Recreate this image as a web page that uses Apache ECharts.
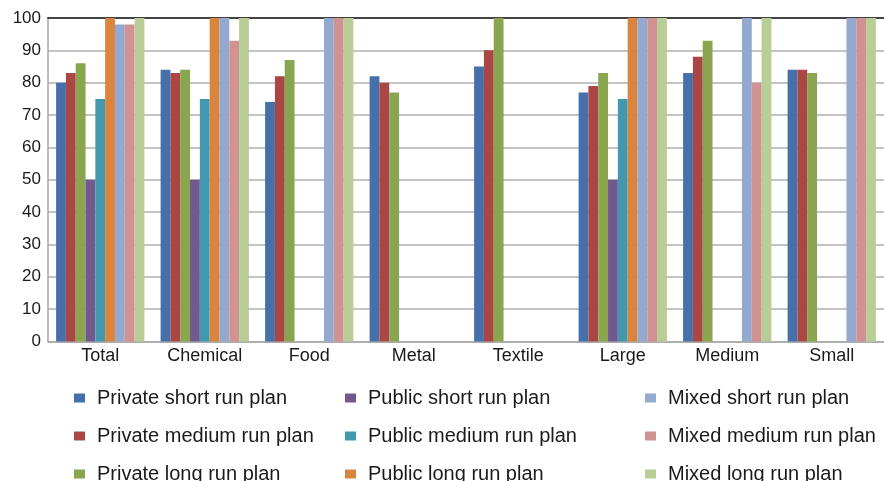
<!DOCTYPE html>
<html>
<head>
<meta charset="utf-8">
<script src="https://cdn.jsdelivr.net/npm/echarts@6/dist/echarts.min.js"></script>
<style>
html,body{margin:0;padding:0;background:#fff;}
#chart{width:884px;height:481px;}
</style>
</head>
<body>
<div id="chart"></div>
<script>
var categories = ['Total','Chemical','Food','Metal','Textile','Large','Medium','Small'];
var yTicks = [0,10,20,30,40,50,60,70,80,90,100];

var seriesNames = [
  'Private short run plan','Private medium run plan','Private long run plan',
  'Public short run plan','Public medium run plan','Public long run plan',
  'Mixed short run plan','Mixed medium run plan','Mixed long run plan'
];
var privateShort  = [80, 84, 74, 82, 85, 77, 83, 84];
var privateMedium = [83, 83, 82, 80, 90, 79, 88, 84];
var privateLong   = [86, 84, 87, 77, 100, 83, 93, 83];
var publicShort   = [50, 50, null, null, null, 50, null, null];
var publicMedium  = [75, 75, null, null, null, 75, null, null];
var publicLong    = [100, 100, null, null, null, 100, null, null];
var mixedShort    = [98, 100, 100, null, null, 100, 100, 100];
var mixedMedium   = [98, 93, 100, null, null, 100, 80, 100];
var mixedLong     = [100, 100, 100, null, null, 100, 100, 100];

var seriesData = [privateShort, privateMedium, privateLong, publicShort, publicMedium, publicLong, mixedShort, mixedMedium, mixedLong];
var colors = ['#4670AB','#AA4643','#89A54E','#71588F','#4198AF','#DB843D','#93A9D0','#D19392','#B9CD96'];

var FONT = '"Liberation Sans", Arial, sans-serif';

var series = seriesNames.map(function(n, i){
  return {
    name: n, type: 'bar', data: seriesData[i],
    barGap: 0, barCategoryGap: '15.5%',
    itemStyle: {color: colors[i]},
    emphasis: {disabled: true}
  };
});

function legendCol(names, left){
  return {
    orient: 'vertical', left: left, top: 388, height: 120, padding: 0,
    itemWidth: 11, itemHeight: 9, itemGap: 18,
    icon: 'rect',
    data: names,
    textStyle: {fontFamily: FONT, fontSize: 20, color: '#1a1a1a', lineHeight: 19, padding: [0,0,0,7]}
  };
}

var chart = echarts.init(document.getElementById('chart'));
chart.setOption({
  animation: false,
  color: colors,
  grid: {left: 48, top: 18, width: 842, bottom: 139.5, containLabel: false},
  legend: [
    legendCol(seriesNames.slice(0,3), 74),
    legendCol(seriesNames.slice(3,6), 345),
    legendCol(seriesNames.slice(6,9), 645)
  ],
  xAxis: [{
    type: 'category', data: categories,
    axisLine: {show: true, lineStyle: {color: '#A6A6A6', width: 1.5}},
    axisTick: {show: false},
    axisLabel: {fontFamily: FONT, fontSize: 18, color: '#1a1a1a', margin: 6}
  },{
    type: 'category', data: categories, position: 'top',
    axisLine: {show: true, lineStyle: {color: '#444', width: 2}},
    axisTick: {show: false}, axisLabel: {show: false}
  }],
  yAxis: {
    type: 'value', min: yTicks[0], max: yTicks[yTicks.length-1], interval: 10,
    axisLine: {show: true, lineStyle: {color: '#A6A6A6', width: 1.5}},
    axisTick: {show: false},
    splitLine: {show: true, lineStyle: {color: '#C4C4C4', width: 2}},
    axisLabel: {fontFamily: FONT, fontSize: 17, color: '#1a1a1a', margin: 7}
  },
  series: series
});
</script>
</body>
</html>
